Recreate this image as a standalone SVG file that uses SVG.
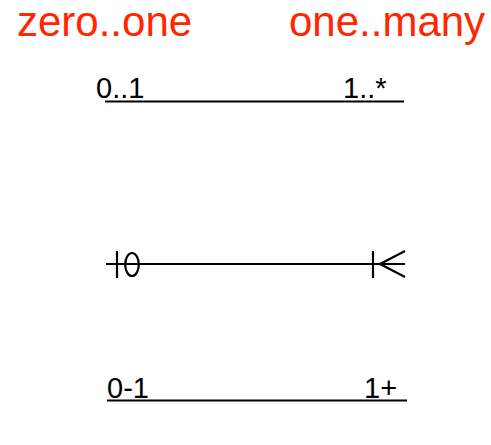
<svg xmlns="http://www.w3.org/2000/svg" width="491" height="445" viewBox="0 0 491 445">
<style>
.t{font-family:"Liberation Sans",Arial,sans-serif;fill:#ff2600;font-size:42px}
.l{font-family:"Liberation Sans",Arial,sans-serif;fill:#000;font-size:29px}
.c{stroke:#000;stroke-width:2.2;fill:none}
</style>
<rect width="491" height="445" fill="#fff"/>
<g id="titles">
<text class="t" x="17" y="36">zero..one</text>
<text class="t" x="289" y="36">one..many</text>
</g>
<g id="connectors">
<g id="rel1">
<line class="c" x1="105" y1="101.5" x2="404" y2="101.5"/>
<text class="l" x="96" y="98">0..1</text>
<text class="l" x="343" y="98">1..*</text>
</g>
<g id="rel2">
<line class="c" x1="106" y1="264" x2="405" y2="264"/>
<line class="c" x1="117" y1="251" x2="117" y2="278"/>
<ellipse class="c" cx="132" cy="264.5" rx="6.8" ry="11.5"/>
<line class="c" x1="373" y1="251" x2="373" y2="278"/>
<polyline class="c" points="405,251 380,264 405,277"/>
</g>
<g id="rel3">
<line class="c" x1="107" y1="400.5" x2="407" y2="400.5"/>
<text class="l" x="107" y="397.5">0-1</text>
<text class="l" x="364" y="397.5">1+</text>
</g>
</g>
</svg>
